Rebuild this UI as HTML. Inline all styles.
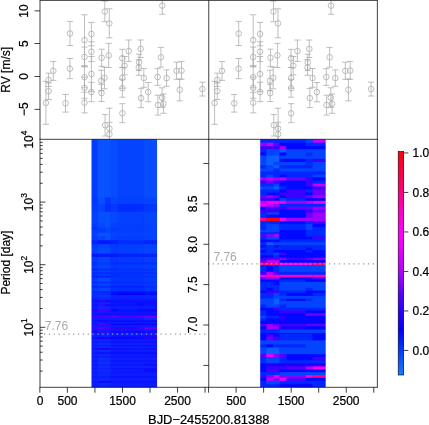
<!DOCTYPE html>
<html><head><meta charset="utf-8"><title>plot</title>
<style>html,body{margin:0;padding:0;background:#fff}body{width:429px;height:425px;overflow:hidden}</style></head>
<body>
<svg width="429" height="425" viewBox="0 0 429 425" style="display:block;font-family:'Liberation Sans',Arial,Helvetica,sans-serif;font-size:12px">
<rect width="429" height="425" fill="#fff"/>
<defs><clipPath id="c1"><rect x="40.00" y="0" width="168.75" height="139.30"/></clipPath><clipPath id="c2"><rect x="208.75" y="0" width="168.60" height="139.30"/></clipPath>
<mask id="m1" maskUnits="userSpaceOnUse" x="80" y="130" width="90" height="270"><rect x="91.50" y="139.30" width="65.55" height="248.00" fill="#fff"/></mask>
<mask id="m2" maskUnits="userSpaceOnUse" x="250" y="130" width="90" height="270"><rect x="260.20" y="139.30" width="65.50" height="248.00" fill="#fff"/></mask>
<linearGradient id="cb" x1="0" y1="151.50" x2="0" y2="375.00" gradientUnits="userSpaceOnUse">
<stop offset="0.0000" stop-color="#ff000f"/>
<stop offset="0.0250" stop-color="#ff001b"/>
<stop offset="0.0500" stop-color="#ff002a"/>
<stop offset="0.0750" stop-color="#ff003a"/>
<stop offset="0.1000" stop-color="#ff0049"/>
<stop offset="0.1250" stop-color="#ff005a"/>
<stop offset="0.1500" stop-color="#ff006b"/>
<stop offset="0.1750" stop-color="#ff007c"/>
<stop offset="0.2000" stop-color="#ff0090"/>
<stop offset="0.2250" stop-color="#ff00a4"/>
<stop offset="0.2500" stop-color="#ff00b9"/>
<stop offset="0.2750" stop-color="#ff00ce"/>
<stop offset="0.3000" stop-color="#ff00dc"/>
<stop offset="0.3250" stop-color="#ff00e8"/>
<stop offset="0.3500" stop-color="#ff00f5"/>
<stop offset="0.3750" stop-color="#fb00fb"/>
<stop offset="0.4000" stop-color="#f400fd"/>
<stop offset="0.4250" stop-color="#ed00ff"/>
<stop offset="0.4500" stop-color="#e100ff"/>
<stop offset="0.4750" stop-color="#d500ff"/>
<stop offset="0.5000" stop-color="#c900ff"/>
<stop offset="0.5250" stop-color="#bb00ff"/>
<stop offset="0.5500" stop-color="#a700ff"/>
<stop offset="0.5750" stop-color="#9000ff"/>
<stop offset="0.6000" stop-color="#7900ff"/>
<stop offset="0.6250" stop-color="#6400ff"/>
<stop offset="0.6500" stop-color="#4f00ff"/>
<stop offset="0.6750" stop-color="#3e00ff"/>
<stop offset="0.7000" stop-color="#3000ff"/>
<stop offset="0.7250" stop-color="#2300ff"/>
<stop offset="0.7500" stop-color="#1700ff"/>
<stop offset="0.7750" stop-color="#0c00ff"/>
<stop offset="0.8000" stop-color="#0100ff"/>
<stop offset="0.8250" stop-color="#0110ff"/>
<stop offset="0.8500" stop-color="#0121ff"/>
<stop offset="0.8750" stop-color="#0232ff"/>
<stop offset="0.9000" stop-color="#0442ff"/>
<stop offset="0.9250" stop-color="#0851ff"/>
<stop offset="0.9500" stop-color="#0d60ff"/>
<stop offset="0.9750" stop-color="#116fff"/>
<stop offset="1.0000" stop-color="#167fff"/>
</linearGradient></defs>
<g mask="url(#m1)"><rect x="88.50" y="136.40" width="71.40" height="253.90" fill="#0649ff"/>
<rect x="88.50" y="136.40" width="9.20" height="253.90" fill="#023aff"/>
<rect x="97.70" y="136.40" width="7.20" height="253.90" fill="#0953ff"/>
<rect x="104.90" y="136.40" width="5.90" height="253.90" fill="#0852ff"/>
<rect x="110.80" y="136.40" width="7.00" height="253.90" fill="#074cff"/>
<rect x="117.80" y="136.40" width="26.10" height="253.90" fill="#0444ff"/>
<rect x="143.90" y="136.40" width="16.00" height="253.90" fill="#074cff"/>
<rect x="88.50" y="197.40" width="9.20" height="192.90" fill="#0236ff"/>
<rect x="97.70" y="197.40" width="7.20" height="192.90" fill="#074eff"/>
<rect x="104.90" y="197.40" width="5.90" height="192.90" fill="#0236ff"/>
<rect x="110.80" y="197.40" width="7.00" height="192.90" fill="#0444ff"/>
<rect x="117.80" y="197.40" width="26.10" height="192.90" fill="#0340ff"/>
<rect x="143.90" y="197.40" width="16.00" height="192.90" fill="#0444ff"/>
<rect x="88.50" y="204.00" width="9.20" height="186.30" fill="#023aff"/>
<rect x="97.70" y="204.00" width="7.20" height="186.30" fill="#0444ff"/>
<rect x="104.90" y="204.00" width="5.90" height="186.30" fill="#022fff"/>
<rect x="110.80" y="204.00" width="7.00" height="186.30" fill="#023aff"/>
<rect x="117.80" y="204.00" width="26.10" height="186.30" fill="#012cff"/>
<rect x="143.90" y="204.00" width="16.00" height="186.30" fill="#0236ff"/>
<rect x="88.50" y="211.70" width="9.20" height="178.60" fill="#0340ff"/>
<rect x="97.70" y="211.70" width="13.10" height="178.60" fill="#074eff"/>
<rect x="110.80" y="211.70" width="7.00" height="178.60" fill="#0548ff"/>
<rect x="117.80" y="211.70" width="26.10" height="178.60" fill="#0340ff"/>
<rect x="143.90" y="211.70" width="16.00" height="178.60" fill="#0444ff"/>
<rect x="88.50" y="223.40" width="9.20" height="166.90" fill="#023aff"/>
<rect x="97.70" y="223.40" width="7.20" height="166.90" fill="#0548ff"/>
<rect x="104.90" y="223.40" width="5.90" height="166.90" fill="#074eff"/>
<rect x="110.80" y="223.40" width="7.00" height="166.90" fill="#0340ff"/>
<rect x="117.80" y="223.40" width="26.10" height="166.90" fill="#033eff"/>
<rect x="143.90" y="223.40" width="16.00" height="166.90" fill="#0340ff"/>
<rect x="88.50" y="227.60" width="9.20" height="162.70" fill="#012cff"/>
<rect x="97.70" y="227.60" width="7.20" height="162.70" fill="#033eff"/>
<rect x="104.90" y="227.60" width="5.90" height="162.70" fill="#0444ff"/>
<rect x="110.80" y="227.60" width="7.00" height="162.70" fill="#0238ff"/>
<rect x="117.80" y="227.60" width="26.10" height="162.70" fill="#023cff"/>
<rect x="143.90" y="227.60" width="16.00" height="162.70" fill="#0340ff"/>
<rect x="88.50" y="229.40" width="16.40" height="160.90" fill="#023aff"/>
<rect x="104.90" y="229.40" width="5.90" height="160.90" fill="#0444ff"/>
<rect x="110.80" y="229.40" width="33.10" height="160.90" fill="#033eff"/>
<rect x="143.90" y="229.40" width="16.00" height="160.90" fill="#0340ff"/>
<rect x="88.50" y="232.70" width="9.20" height="157.60" fill="#0340ff"/>
<rect x="97.70" y="232.70" width="13.10" height="157.60" fill="#0852ff"/>
<rect x="110.80" y="232.70" width="7.00" height="157.60" fill="#0444ff"/>
<rect x="117.80" y="232.70" width="26.10" height="157.60" fill="#0340ff"/>
<rect x="143.90" y="232.70" width="16.00" height="157.60" fill="#0444ff"/>
<rect x="88.50" y="236.00" width="9.20" height="154.30" fill="#023aff"/>
<rect x="97.70" y="236.00" width="7.20" height="154.30" fill="#0444ff"/>
<rect x="104.90" y="236.00" width="5.90" height="154.30" fill="#074eff"/>
<rect x="110.80" y="236.00" width="7.00" height="154.30" fill="#0340ff"/>
<rect x="117.80" y="236.00" width="26.10" height="154.30" fill="#033eff"/>
<rect x="143.90" y="236.00" width="16.00" height="154.30" fill="#0340ff"/>
<rect x="88.50" y="240.30" width="9.20" height="150.00" fill="#0122ff"/>
<rect x="97.70" y="240.30" width="13.10" height="150.00" fill="#0114ff"/>
<rect x="110.80" y="240.30" width="7.00" height="150.00" fill="#011cff"/>
<rect x="117.80" y="240.30" width="26.10" height="150.00" fill="#012cff"/>
<rect x="143.90" y="240.30" width="16.00" height="150.00" fill="#0122ff"/>
<rect x="88.50" y="244.10" width="9.20" height="146.20" fill="#023aff"/>
<rect x="97.70" y="244.10" width="13.10" height="146.20" fill="#0444ff"/>
<rect x="110.80" y="244.10" width="7.00" height="146.20" fill="#023aff"/>
<rect x="117.80" y="244.10" width="26.10" height="146.20" fill="#033eff"/>
<rect x="143.90" y="244.10" width="16.00" height="146.20" fill="#0340ff"/>
<rect x="88.50" y="247.80" width="9.20" height="142.50" fill="#033eff"/>
<rect x="97.70" y="247.80" width="13.10" height="142.50" fill="#064aff"/>
<rect x="110.80" y="247.80" width="7.00" height="142.50" fill="#023aff"/>
<rect x="117.80" y="247.80" width="19.30" height="142.50" fill="#033eff"/>
<rect x="137.10" y="247.80" width="6.80" height="142.50" fill="#0340ff"/>
<rect x="143.90" y="247.80" width="16.00" height="142.50" fill="#0444ff"/>
<rect x="88.50" y="253.70" width="9.20" height="136.60" fill="#0114ff"/>
<rect x="97.70" y="253.70" width="20.10" height="136.60" fill="#011aff"/>
<rect x="117.80" y="253.70" width="42.10" height="136.60" fill="#0122ff"/>
<rect x="88.50" y="257.00" width="9.20" height="133.30" fill="#023aff"/>
<rect x="97.70" y="257.00" width="13.10" height="133.30" fill="#0444ff"/>
<rect x="110.80" y="257.00" width="7.00" height="133.30" fill="#0236ff"/>
<rect x="117.80" y="257.00" width="26.10" height="133.30" fill="#023aff"/>
<rect x="143.90" y="257.00" width="16.00" height="133.30" fill="#033eff"/>
<rect x="88.50" y="262.00" width="9.20" height="128.30" fill="#022fff"/>
<rect x="97.70" y="262.00" width="13.10" height="128.30" fill="#023aff"/>
<rect x="110.80" y="262.00" width="33.10" height="128.30" fill="#012cff"/>
<rect x="143.90" y="262.00" width="16.00" height="128.30" fill="#022fff"/>
<rect x="88.50" y="264.60" width="9.20" height="125.70" fill="#023aff"/>
<rect x="97.70" y="264.60" width="13.10" height="125.70" fill="#0444ff"/>
<rect x="110.80" y="264.60" width="7.00" height="125.70" fill="#0236ff"/>
<rect x="117.80" y="264.60" width="26.10" height="125.70" fill="#023aff"/>
<rect x="143.90" y="264.60" width="16.00" height="125.70" fill="#033eff"/>
<rect x="88.50" y="268.80" width="9.20" height="121.50" fill="#0122ff"/>
<rect x="97.70" y="268.80" width="20.10" height="121.50" fill="#012cff"/>
<rect x="117.80" y="268.80" width="42.10" height="121.50" fill="#022fff"/>
<rect x="88.50" y="270.50" width="9.20" height="119.80" fill="#023aff"/>
<rect x="97.70" y="270.50" width="13.10" height="119.80" fill="#0340ff"/>
<rect x="110.80" y="270.50" width="33.10" height="119.80" fill="#0236ff"/>
<rect x="143.90" y="270.50" width="16.00" height="119.80" fill="#023aff"/>
<rect x="88.50" y="272.00" width="9.20" height="118.30" fill="#012cff"/>
<rect x="97.70" y="272.00" width="62.20" height="118.30" fill="#022fff"/>
<rect x="88.50" y="273.70" width="9.20" height="116.60" fill="#022fff"/>
<rect x="97.70" y="273.70" width="13.10" height="116.60" fill="#023aff"/>
<rect x="110.80" y="273.70" width="7.00" height="116.60" fill="#022fff"/>
<rect x="117.80" y="273.70" width="26.10" height="116.60" fill="#0234ff"/>
<rect x="143.90" y="273.70" width="16.00" height="116.60" fill="#023aff"/>
<rect x="88.50" y="275.90" width="22.30" height="114.40" fill="#0122ff"/>
<rect x="110.80" y="275.90" width="49.10" height="114.40" fill="#022fff"/>
<rect x="88.50" y="277.50" width="9.20" height="112.80" fill="#023aff"/>
<rect x="97.70" y="277.50" width="13.10" height="112.80" fill="#0548ff"/>
<rect x="110.80" y="277.50" width="33.10" height="112.80" fill="#0234ff"/>
<rect x="143.90" y="277.50" width="16.00" height="112.80" fill="#023aff"/>
<rect x="88.50" y="281.70" width="9.20" height="108.60" fill="#012cff"/>
<rect x="97.70" y="281.70" width="13.10" height="108.60" fill="#022fff"/>
<rect x="110.80" y="281.70" width="33.10" height="108.60" fill="#012cff"/>
<rect x="143.90" y="281.70" width="16.00" height="108.60" fill="#022fff"/>
<rect x="88.50" y="283.40" width="9.20" height="106.90" fill="#023aff"/>
<rect x="97.70" y="283.40" width="13.10" height="106.90" fill="#0444ff"/>
<rect x="110.80" y="283.40" width="33.10" height="106.90" fill="#0234ff"/>
<rect x="143.90" y="283.40" width="16.00" height="106.90" fill="#023aff"/>
<rect x="88.50" y="285.90" width="9.20" height="104.40" fill="#0122ff"/>
<rect x="97.70" y="285.90" width="13.10" height="104.40" fill="#012cff"/>
<rect x="110.80" y="285.90" width="33.10" height="104.40" fill="#0122ff"/>
<rect x="143.90" y="285.90" width="16.00" height="104.40" fill="#012cff"/>
<rect x="88.50" y="287.60" width="9.20" height="102.70" fill="#023aff"/>
<rect x="97.70" y="287.60" width="13.10" height="102.70" fill="#0444ff"/>
<rect x="110.80" y="287.60" width="33.10" height="102.70" fill="#022fff"/>
<rect x="143.90" y="287.60" width="16.00" height="102.70" fill="#0236ff"/>
<rect x="88.50" y="291.00" width="22.30" height="99.30" fill="#0122ff"/>
<rect x="110.80" y="291.00" width="7.00" height="99.30" fill="#011aff"/>
<rect x="117.80" y="291.00" width="26.10" height="99.30" fill="#0114ff"/>
<rect x="143.90" y="291.00" width="16.00" height="99.30" fill="#011aff"/>
<rect x="88.50" y="292.70" width="22.30" height="97.60" fill="#022fff"/>
<rect x="110.80" y="292.70" width="7.00" height="97.60" fill="#000bff"/>
<rect x="117.80" y="292.70" width="26.10" height="97.60" fill="#0800ff"/>
<rect x="143.90" y="292.70" width="16.00" height="97.60" fill="#000bff"/>
<rect x="88.50" y="295.20" width="9.20" height="95.10" fill="#022fff"/>
<rect x="97.70" y="295.20" width="13.10" height="95.10" fill="#023aff"/>
<rect x="110.80" y="295.20" width="33.10" height="95.10" fill="#012cff"/>
<rect x="143.90" y="295.20" width="16.00" height="95.10" fill="#022fff"/>
<rect x="88.50" y="297.70" width="9.20" height="92.60" fill="#0122ff"/>
<rect x="97.70" y="297.70" width="13.10" height="92.60" fill="#012cff"/>
<rect x="110.80" y="297.70" width="49.10" height="92.60" fill="#0122ff"/>
<rect x="88.50" y="300.20" width="9.20" height="90.10" fill="#0114ff"/>
<rect x="97.70" y="300.20" width="7.20" height="90.10" fill="#2700ff"/>
<rect x="104.90" y="300.20" width="5.90" height="90.10" fill="#1100ff"/>
<rect x="110.80" y="300.20" width="49.10" height="90.10" fill="#0114ff"/>
<rect x="88.50" y="302.20" width="9.20" height="88.10" fill="#0122ff"/>
<rect x="97.70" y="302.20" width="13.10" height="88.10" fill="#012cff"/>
<rect x="110.80" y="302.20" width="26.30" height="88.10" fill="#011aff"/>
<rect x="137.10" y="302.20" width="6.80" height="88.10" fill="#000dff"/>
<rect x="143.90" y="302.20" width="16.00" height="88.10" fill="#0114ff"/>
<rect x="88.50" y="304.40" width="9.20" height="85.90" fill="#0114ff"/>
<rect x="97.70" y="304.40" width="7.20" height="85.90" fill="#3f00ff"/>
<rect x="104.90" y="304.40" width="5.90" height="85.90" fill="#1100ff"/>
<rect x="110.80" y="304.40" width="26.30" height="85.90" fill="#0114ff"/>
<rect x="137.10" y="304.40" width="6.80" height="85.90" fill="#000bff"/>
<rect x="143.90" y="304.40" width="16.00" height="85.90" fill="#0114ff"/>
<rect x="88.50" y="306.10" width="9.20" height="84.20" fill="#0122ff"/>
<rect x="97.70" y="306.10" width="13.10" height="84.20" fill="#022fff"/>
<rect x="110.80" y="306.10" width="49.10" height="84.20" fill="#0122ff"/>
<rect x="88.50" y="308.90" width="9.20" height="81.40" fill="#2700ff"/>
<rect x="97.70" y="308.90" width="7.20" height="81.40" fill="#4f00ff"/>
<rect x="104.90" y="308.90" width="5.90" height="81.40" fill="#3f00ff"/>
<rect x="110.80" y="308.90" width="7.00" height="81.40" fill="#0008ff"/>
<rect x="117.80" y="308.90" width="19.30" height="81.40" fill="#0114ff"/>
<rect x="137.10" y="308.90" width="22.80" height="81.40" fill="#000bff"/>
<rect x="88.50" y="311.60" width="22.30" height="78.70" fill="#0122ff"/>
<rect x="110.80" y="311.60" width="49.10" height="78.70" fill="#011aff"/>
<rect x="88.50" y="313.30" width="9.20" height="77.00" fill="#0114ff"/>
<rect x="97.70" y="313.30" width="7.20" height="77.00" fill="#2700ff"/>
<rect x="104.90" y="313.30" width="5.90" height="77.00" fill="#1100ff"/>
<rect x="110.80" y="313.30" width="49.10" height="77.00" fill="#0114ff"/>
<rect x="88.50" y="314.30" width="22.30" height="76.00" fill="#011cff"/>
<rect x="110.80" y="314.30" width="26.30" height="76.00" fill="#011aff"/>
<rect x="137.10" y="314.30" width="22.80" height="76.00" fill="#0114ff"/>
<rect x="88.50" y="315.70" width="9.20" height="74.60" fill="#3f00ff"/>
<rect x="97.70" y="315.70" width="13.10" height="74.60" fill="#4f00ff"/>
<rect x="110.80" y="315.70" width="7.00" height="74.60" fill="#6200ff"/>
<rect x="117.80" y="315.70" width="19.30" height="74.60" fill="#4f00ff"/>
<rect x="137.10" y="315.70" width="6.80" height="74.60" fill="#6200ff"/>
<rect x="143.90" y="315.70" width="16.00" height="74.60" fill="#7400ff"/>
<rect x="88.50" y="318.00" width="55.40" height="72.30" fill="#0122ff"/>
<rect x="143.90" y="318.00" width="16.00" height="72.30" fill="#022fff"/>
<rect x="88.50" y="320.40" width="9.20" height="69.90" fill="#0114ff"/>
<rect x="97.70" y="320.40" width="13.10" height="69.90" fill="#1100ff"/>
<rect x="110.80" y="320.40" width="49.10" height="69.90" fill="#0008ff"/>
<rect x="88.50" y="321.70" width="71.40" height="68.60" fill="#0122ff"/>
<rect x="88.50" y="323.40" width="9.20" height="66.90" fill="#0114ff"/>
<rect x="97.70" y="323.40" width="7.20" height="66.90" fill="#4f00ff"/>
<rect x="104.90" y="323.40" width="5.90" height="66.90" fill="#3f00ff"/>
<rect x="110.80" y="323.40" width="49.10" height="66.90" fill="#0008ff"/>
<rect x="88.50" y="325.10" width="71.40" height="65.20" fill="#0122ff"/>
<rect x="88.50" y="327.40" width="9.20" height="62.90" fill="#3f00ff"/>
<rect x="97.70" y="327.40" width="7.20" height="62.90" fill="#6200ff"/>
<rect x="104.90" y="327.40" width="5.90" height="62.90" fill="#4f00ff"/>
<rect x="110.80" y="327.40" width="26.30" height="62.90" fill="#2700ff"/>
<rect x="137.10" y="327.40" width="6.80" height="62.90" fill="#3f00ff"/>
<rect x="143.90" y="327.40" width="16.00" height="62.90" fill="#6200ff"/>
<rect x="88.50" y="329.40" width="71.40" height="60.90" fill="#0122ff"/>
<rect x="88.50" y="330.80" width="9.20" height="59.50" fill="#1100ff"/>
<rect x="97.70" y="330.80" width="13.10" height="59.50" fill="#3f00ff"/>
<rect x="110.80" y="330.80" width="33.10" height="59.50" fill="#1100ff"/>
<rect x="143.90" y="330.80" width="16.00" height="59.50" fill="#2700ff"/>
<rect x="88.50" y="332.50" width="9.20" height="57.80" fill="#0122ff"/>
<rect x="97.70" y="332.50" width="13.10" height="57.80" fill="#0129ff"/>
<rect x="110.80" y="332.50" width="49.10" height="57.80" fill="#0122ff"/>
<rect x="88.50" y="335.50" width="22.30" height="54.80" fill="#0122ff"/>
<rect x="110.80" y="335.50" width="49.10" height="54.80" fill="#0114ff"/>
<rect x="88.50" y="337.20" width="9.20" height="53.10" fill="#0114ff"/>
<rect x="97.70" y="337.20" width="13.10" height="53.10" fill="#1100ff"/>
<rect x="110.80" y="337.20" width="26.30" height="53.10" fill="#0008ff"/>
<rect x="137.10" y="337.20" width="6.80" height="53.10" fill="#1100ff"/>
<rect x="143.90" y="337.20" width="16.00" height="53.10" fill="#2700ff"/>
<rect x="88.50" y="339.20" width="9.20" height="51.10" fill="#0122ff"/>
<rect x="97.70" y="339.20" width="13.10" height="51.10" fill="#022fff"/>
<rect x="110.80" y="339.20" width="49.10" height="51.10" fill="#0122ff"/>
<rect x="88.50" y="341.50" width="9.20" height="48.80" fill="#011aff"/>
<rect x="97.70" y="341.50" width="13.10" height="48.80" fill="#0120ff"/>
<rect x="110.80" y="341.50" width="49.10" height="48.80" fill="#0114ff"/>
<rect x="88.50" y="343.00" width="9.20" height="47.30" fill="#0126ff"/>
<rect x="97.70" y="343.00" width="13.10" height="47.30" fill="#022fff"/>
<rect x="110.80" y="343.00" width="49.10" height="47.30" fill="#0126ff"/>
<rect x="88.50" y="345.00" width="9.20" height="45.30" fill="#011aff"/>
<rect x="97.70" y="345.00" width="13.10" height="45.30" fill="#0122ff"/>
<rect x="110.80" y="345.00" width="49.10" height="45.30" fill="#0114ff"/>
<rect x="88.50" y="346.50" width="9.20" height="43.80" fill="#0126ff"/>
<rect x="97.70" y="346.50" width="13.10" height="43.80" fill="#0234ff"/>
<rect x="110.80" y="346.50" width="49.10" height="43.80" fill="#0126ff"/>
<rect x="88.50" y="348.00" width="9.20" height="42.30" fill="#0114ff"/>
<rect x="97.70" y="348.00" width="13.10" height="42.30" fill="#1100ff"/>
<rect x="110.80" y="348.00" width="49.10" height="42.30" fill="#0114ff"/>
<rect x="88.50" y="349.80" width="9.20" height="40.50" fill="#0126ff"/>
<rect x="97.70" y="349.80" width="13.10" height="40.50" fill="#022fff"/>
<rect x="110.80" y="349.80" width="49.10" height="40.50" fill="#0122ff"/>
<rect x="88.50" y="352.30" width="22.30" height="38.00" fill="#0114ff"/>
<rect x="110.80" y="352.30" width="49.10" height="38.00" fill="#000bff"/>
<rect x="88.50" y="354.00" width="9.20" height="36.30" fill="#0126ff"/>
<rect x="97.70" y="354.00" width="13.10" height="36.30" fill="#022fff"/>
<rect x="110.80" y="354.00" width="49.10" height="36.30" fill="#0122ff"/>
<rect x="88.50" y="356.00" width="9.20" height="34.30" fill="#011aff"/>
<rect x="97.70" y="356.00" width="13.10" height="34.30" fill="#0122ff"/>
<rect x="110.80" y="356.00" width="49.10" height="34.30" fill="#0116ff"/>
<rect x="88.50" y="357.50" width="9.20" height="32.80" fill="#0126ff"/>
<rect x="97.70" y="357.50" width="13.10" height="32.80" fill="#0234ff"/>
<rect x="110.80" y="357.50" width="49.10" height="32.80" fill="#0126ff"/>
<rect x="88.50" y="360.00" width="9.20" height="30.30" fill="#011cff"/>
<rect x="97.70" y="360.00" width="13.10" height="30.30" fill="#022fff"/>
<rect x="110.80" y="360.00" width="49.10" height="30.30" fill="#011aff"/>
<rect x="88.50" y="362.00" width="9.20" height="28.30" fill="#0126ff"/>
<rect x="97.70" y="362.00" width="13.10" height="28.30" fill="#0236ff"/>
<rect x="110.80" y="362.00" width="33.10" height="28.30" fill="#0126ff"/>
<rect x="143.90" y="362.00" width="16.00" height="28.30" fill="#0122ff"/>
<rect x="88.50" y="364.00" width="9.20" height="26.30" fill="#011aff"/>
<rect x="97.70" y="364.00" width="13.10" height="26.30" fill="#0129ff"/>
<rect x="110.80" y="364.00" width="33.10" height="26.30" fill="#0116ff"/>
<rect x="143.90" y="364.00" width="16.00" height="26.30" fill="#000dff"/>
<rect x="88.50" y="365.50" width="9.20" height="24.80" fill="#0126ff"/>
<rect x="97.70" y="365.50" width="13.10" height="24.80" fill="#0234ff"/>
<rect x="110.80" y="365.50" width="49.10" height="24.80" fill="#0126ff"/>
<rect x="88.50" y="368.00" width="9.20" height="22.30" fill="#011aff"/>
<rect x="97.70" y="368.00" width="13.10" height="22.30" fill="#0126ff"/>
<rect x="110.80" y="368.00" width="33.10" height="22.30" fill="#0116ff"/>
<rect x="143.90" y="368.00" width="16.00" height="22.30" fill="#0114ff"/>
<rect x="88.50" y="369.50" width="9.20" height="20.80" fill="#0126ff"/>
<rect x="97.70" y="369.50" width="13.10" height="20.80" fill="#0234ff"/>
<rect x="110.80" y="369.50" width="33.10" height="20.80" fill="#0122ff"/>
<rect x="143.90" y="369.50" width="16.00" height="20.80" fill="#000bff"/>
<rect x="88.50" y="371.50" width="9.20" height="18.80" fill="#011cff"/>
<rect x="97.70" y="371.50" width="13.10" height="18.80" fill="#0129ff"/>
<rect x="110.80" y="371.50" width="49.10" height="18.80" fill="#011aff"/>
<rect x="88.50" y="373.50" width="9.20" height="16.80" fill="#0126ff"/>
<rect x="97.70" y="373.50" width="13.10" height="16.80" fill="#012cff"/>
<rect x="110.80" y="373.50" width="49.10" height="16.80" fill="#0122ff"/>
<rect x="88.50" y="376.00" width="9.20" height="14.30" fill="#011aff"/>
<rect x="97.70" y="376.00" width="13.10" height="14.30" fill="#0122ff"/>
<rect x="110.80" y="376.00" width="49.10" height="14.30" fill="#0116ff"/>
<rect x="88.50" y="378.00" width="9.20" height="12.30" fill="#0126ff"/>
<rect x="97.70" y="378.00" width="13.10" height="12.30" fill="#012cff"/>
<rect x="110.80" y="378.00" width="49.10" height="12.30" fill="#0122ff"/>
<rect x="88.50" y="381.00" width="9.20" height="9.30" fill="#011aff"/>
<rect x="97.70" y="381.00" width="13.10" height="9.30" fill="#010fff"/>
<rect x="110.80" y="381.00" width="49.10" height="9.30" fill="#0116ff"/>
<rect x="88.50" y="383.00" width="9.20" height="7.30" fill="#0122ff"/>
<rect x="97.70" y="383.00" width="13.10" height="7.30" fill="#0129ff"/>
<rect x="110.80" y="383.00" width="49.10" height="7.30" fill="#0122ff"/>
<rect x="85" y="296" width="80" height="100" fill="#5000ff" fill-opacity="0.14"/></g>
<g mask="url(#m2)"><rect x="257.20" y="136.51" width="71.40" height="253.79" fill="#0116ff"/>
<rect x="257.20" y="136.51" width="48.60" height="253.79" fill="#0127ff"/>
<rect x="305.80" y="136.51" width="6.80" height="253.79" fill="#0444ff"/>
<rect x="312.60" y="136.51" width="16.00" height="253.79" fill="#c800ff"/>
<rect x="257.20" y="142.70" width="9.20" height="247.60" fill="#9f00ff"/>
<rect x="266.40" y="142.70" width="7.20" height="247.60" fill="#c800ff"/>
<rect x="273.60" y="142.70" width="5.90" height="247.60" fill="#6b00ff"/>
<rect x="279.50" y="142.70" width="26.30" height="247.60" fill="#0009ff"/>
<rect x="305.80" y="142.70" width="22.80" height="247.60" fill="#0127ff"/>
<rect x="257.20" y="146.05" width="22.30" height="244.25" fill="#3c00ff"/>
<rect x="279.50" y="146.05" width="7.00" height="244.25" fill="#9f00ff"/>
<rect x="286.50" y="146.05" width="42.10" height="244.25" fill="#0009ff"/>
<rect x="257.20" y="149.24" width="9.20" height="241.06" fill="#0127ff"/>
<rect x="266.40" y="149.24" width="13.10" height="241.06" fill="#0444ff"/>
<rect x="279.50" y="149.24" width="7.00" height="241.06" fill="#0c5fff"/>
<rect x="286.50" y="149.24" width="42.10" height="241.06" fill="#0444ff"/>
<rect x="257.20" y="152.43" width="9.20" height="237.87" fill="#0009ff"/>
<rect x="266.40" y="152.43" width="13.10" height="237.87" fill="#0444ff"/>
<rect x="279.50" y="152.43" width="7.00" height="237.87" fill="#0009ff"/>
<rect x="286.50" y="152.43" width="19.30" height="237.87" fill="#0444ff"/>
<rect x="305.80" y="152.43" width="6.80" height="237.87" fill="#0127ff"/>
<rect x="312.60" y="152.43" width="16.00" height="237.87" fill="#0444ff"/>
<rect x="257.20" y="155.62" width="9.20" height="234.68" fill="#0444ff"/>
<rect x="266.40" y="155.62" width="13.10" height="234.68" fill="#0c5fff"/>
<rect x="279.50" y="155.62" width="49.10" height="234.68" fill="#0444ff"/>
<rect x="257.20" y="158.81" width="9.20" height="231.49" fill="#0444ff"/>
<rect x="266.40" y="158.81" width="13.10" height="231.49" fill="#0c5fff"/>
<rect x="279.50" y="158.81" width="26.30" height="231.49" fill="#0009ff"/>
<rect x="305.80" y="158.81" width="6.80" height="231.49" fill="#0127ff"/>
<rect x="312.60" y="158.81" width="16.00" height="231.49" fill="#3c00ff"/>
<rect x="257.20" y="161.99" width="9.20" height="228.31" fill="#0444ff"/>
<rect x="266.40" y="161.99" width="7.20" height="228.31" fill="#0c5fff"/>
<rect x="273.60" y="161.99" width="32.20" height="228.31" fill="#0444ff"/>
<rect x="305.80" y="161.99" width="6.80" height="228.31" fill="#0127ff"/>
<rect x="312.60" y="161.99" width="16.00" height="228.31" fill="#0444ff"/>
<rect x="257.20" y="165.18" width="9.20" height="225.12" fill="#0127ff"/>
<rect x="266.40" y="165.18" width="7.20" height="225.12" fill="#0444ff"/>
<rect x="273.60" y="165.18" width="5.90" height="225.12" fill="#0c5fff"/>
<rect x="279.50" y="165.18" width="33.10" height="225.12" fill="#0127ff"/>
<rect x="312.60" y="165.18" width="16.00" height="225.12" fill="#0444ff"/>
<rect x="257.20" y="168.37" width="16.40" height="221.93" fill="#0444ff"/>
<rect x="273.60" y="168.37" width="5.90" height="221.93" fill="#0127ff"/>
<rect x="279.50" y="168.37" width="49.10" height="221.93" fill="#0444ff"/>
<rect x="257.20" y="171.56" width="71.40" height="218.74" fill="#0127ff"/>
<rect x="257.20" y="174.74" width="9.20" height="215.56" fill="#0127ff"/>
<rect x="266.40" y="174.74" width="7.20" height="215.56" fill="#0444ff"/>
<rect x="273.60" y="174.74" width="5.90" height="215.56" fill="#0127ff"/>
<rect x="279.50" y="174.74" width="7.00" height="215.56" fill="#0009ff"/>
<rect x="286.50" y="174.74" width="26.10" height="215.56" fill="#0127ff"/>
<rect x="312.60" y="174.74" width="16.00" height="215.56" fill="#0444ff"/>
<rect x="257.20" y="177.34" width="9.20" height="212.96" fill="#9f00ff"/>
<rect x="266.40" y="177.34" width="7.20" height="212.96" fill="#c800ff"/>
<rect x="273.60" y="177.34" width="5.90" height="212.96" fill="#9f00ff"/>
<rect x="279.50" y="177.34" width="7.00" height="212.96" fill="#c800ff"/>
<rect x="286.50" y="177.34" width="19.30" height="212.96" fill="#6b00ff"/>
<rect x="305.80" y="177.34" width="6.80" height="212.96" fill="#3c00ff"/>
<rect x="312.60" y="177.34" width="16.00" height="212.96" fill="#0009ff"/>
<rect x="257.20" y="180.53" width="9.20" height="209.77" fill="#3c00ff"/>
<rect x="266.40" y="180.53" width="7.20" height="209.77" fill="#6b00ff"/>
<rect x="273.60" y="180.53" width="5.90" height="209.77" fill="#3c00ff"/>
<rect x="279.50" y="180.53" width="26.30" height="209.77" fill="#0009ff"/>
<rect x="305.80" y="180.53" width="6.80" height="209.77" fill="#3c00ff"/>
<rect x="312.60" y="180.53" width="16.00" height="209.77" fill="#0127ff"/>
<rect x="257.20" y="183.72" width="16.40" height="206.58" fill="#0127ff"/>
<rect x="273.60" y="183.72" width="5.90" height="206.58" fill="#0444ff"/>
<rect x="279.50" y="183.72" width="26.30" height="206.58" fill="#0009ff"/>
<rect x="305.80" y="183.72" width="6.80" height="206.58" fill="#3c00ff"/>
<rect x="312.60" y="183.72" width="16.00" height="206.58" fill="#c800ff"/>
<rect x="257.20" y="186.40" width="16.40" height="203.90" fill="#0444ff"/>
<rect x="273.60" y="186.40" width="5.90" height="203.90" fill="#0c5fff"/>
<rect x="279.50" y="186.40" width="7.00" height="203.90" fill="#0127ff"/>
<rect x="286.50" y="186.40" width="26.10" height="203.90" fill="#0009ff"/>
<rect x="312.60" y="186.40" width="16.00" height="203.90" fill="#3c00ff"/>
<rect x="257.20" y="189.42" width="22.30" height="200.88" fill="#0127ff"/>
<rect x="279.50" y="189.42" width="7.00" height="200.88" fill="#0009ff"/>
<rect x="286.50" y="189.42" width="19.30" height="200.88" fill="#3c00ff"/>
<rect x="305.80" y="189.42" width="6.80" height="200.88" fill="#0127ff"/>
<rect x="312.60" y="189.42" width="16.00" height="200.88" fill="#6b00ff"/>
<rect x="257.20" y="192.44" width="9.20" height="197.86" fill="#0127ff"/>
<rect x="266.40" y="192.44" width="13.10" height="197.86" fill="#0009ff"/>
<rect x="279.50" y="192.44" width="26.30" height="197.86" fill="#3c00ff"/>
<rect x="305.80" y="192.44" width="6.80" height="197.86" fill="#0009ff"/>
<rect x="312.60" y="192.44" width="16.00" height="197.86" fill="#6b00ff"/>
<rect x="257.20" y="195.30" width="9.20" height="195.00" fill="#6b00ff"/>
<rect x="266.40" y="195.30" width="7.20" height="195.00" fill="#9f00ff"/>
<rect x="273.60" y="195.30" width="5.90" height="195.00" fill="#6b00ff"/>
<rect x="279.50" y="195.30" width="7.00" height="195.00" fill="#0009ff"/>
<rect x="286.50" y="195.30" width="19.30" height="195.00" fill="#3c00ff"/>
<rect x="305.80" y="195.30" width="6.80" height="195.00" fill="#6b00ff"/>
<rect x="312.60" y="195.30" width="16.00" height="195.00" fill="#9f00ff"/>
<rect x="257.20" y="198.15" width="16.40" height="192.15" fill="#3c00ff"/>
<rect x="273.60" y="198.15" width="5.90" height="192.15" fill="#0009ff"/>
<rect x="279.50" y="198.15" width="7.00" height="192.15" fill="#0444ff"/>
<rect x="286.50" y="198.15" width="19.30" height="192.15" fill="#0127ff"/>
<rect x="305.80" y="198.15" width="22.80" height="192.15" fill="#0009ff"/>
<rect x="257.20" y="200.83" width="9.20" height="189.47" fill="#c800ff"/>
<rect x="266.40" y="200.83" width="13.10" height="189.47" fill="#ff00e4"/>
<rect x="279.50" y="200.83" width="7.00" height="189.47" fill="#f200fd"/>
<rect x="286.50" y="200.83" width="19.30" height="189.47" fill="#9f00ff"/>
<rect x="305.80" y="200.83" width="6.80" height="189.47" fill="#c800ff"/>
<rect x="312.60" y="200.83" width="16.00" height="189.47" fill="#f200fd"/>
<rect x="257.20" y="203.85" width="9.20" height="186.45" fill="#f200fd"/>
<rect x="266.40" y="203.85" width="7.20" height="186.45" fill="#c800ff"/>
<rect x="273.60" y="203.85" width="5.90" height="186.45" fill="#9f00ff"/>
<rect x="279.50" y="203.85" width="49.10" height="186.45" fill="#0127ff"/>
<rect x="257.20" y="206.70" width="9.20" height="183.60" fill="#0009ff"/>
<rect x="266.40" y="206.70" width="20.10" height="183.60" fill="#3c00ff"/>
<rect x="286.50" y="206.70" width="26.10" height="183.60" fill="#6b00ff"/>
<rect x="312.60" y="206.70" width="16.00" height="183.60" fill="#9f00ff"/>
<rect x="257.20" y="209.56" width="22.30" height="180.74" fill="#3c00ff"/>
<rect x="279.50" y="209.56" width="26.30" height="180.74" fill="#0009ff"/>
<rect x="305.80" y="209.56" width="6.80" height="180.74" fill="#3c00ff"/>
<rect x="312.60" y="209.56" width="16.00" height="180.74" fill="#6b00ff"/>
<rect x="257.20" y="212.41" width="9.20" height="177.89" fill="#0127ff"/>
<rect x="266.40" y="212.41" width="13.10" height="177.89" fill="#0444ff"/>
<rect x="279.50" y="212.41" width="26.30" height="177.89" fill="#0009ff"/>
<rect x="305.80" y="212.41" width="6.80" height="177.89" fill="#6b00ff"/>
<rect x="312.60" y="212.41" width="16.00" height="177.89" fill="#9f00ff"/>
<rect x="257.20" y="214.67" width="9.20" height="175.63" fill="#0127ff"/>
<rect x="266.40" y="214.67" width="39.40" height="175.63" fill="#0009ff"/>
<rect x="305.80" y="214.67" width="6.80" height="175.63" fill="#6b00ff"/>
<rect x="312.60" y="214.67" width="16.00" height="175.63" fill="#9f00ff"/>
<rect x="257.20" y="217.69" width="9.20" height="172.61" fill="#ff0082"/>
<rect x="266.40" y="217.69" width="13.10" height="172.61" fill="#ff000f"/>
<rect x="279.50" y="217.69" width="7.00" height="172.61" fill="#f200fd"/>
<rect x="286.50" y="217.69" width="42.10" height="172.61" fill="#9f00ff"/>
<rect x="257.20" y="221.05" width="22.30" height="169.25" fill="#0127ff"/>
<rect x="279.50" y="221.05" width="26.30" height="169.25" fill="#0009ff"/>
<rect x="305.80" y="221.05" width="6.80" height="169.25" fill="#0127ff"/>
<rect x="312.60" y="221.05" width="16.00" height="169.25" fill="#3c00ff"/>
<rect x="257.20" y="224.07" width="9.20" height="166.23" fill="#0127ff"/>
<rect x="266.40" y="224.07" width="13.10" height="166.23" fill="#0444ff"/>
<rect x="279.50" y="224.07" width="26.30" height="166.23" fill="#0127ff"/>
<rect x="305.80" y="224.07" width="6.80" height="166.23" fill="#0444ff"/>
<rect x="312.60" y="224.07" width="16.00" height="166.23" fill="#0009ff"/>
<rect x="257.20" y="227.09" width="9.20" height="163.21" fill="#0127ff"/>
<rect x="266.40" y="227.09" width="13.10" height="163.21" fill="#0444ff"/>
<rect x="279.50" y="227.09" width="26.30" height="163.21" fill="#0127ff"/>
<rect x="305.80" y="227.09" width="6.80" height="163.21" fill="#0444ff"/>
<rect x="312.60" y="227.09" width="16.00" height="163.21" fill="#0127ff"/>
<rect x="257.20" y="230.11" width="22.30" height="160.19" fill="#0444ff"/>
<rect x="279.50" y="230.11" width="26.30" height="160.19" fill="#0009ff"/>
<rect x="305.80" y="230.11" width="22.80" height="160.19" fill="#0127ff"/>
<rect x="257.20" y="232.12" width="22.30" height="158.18" fill="#0127ff"/>
<rect x="279.50" y="232.12" width="26.30" height="158.18" fill="#0009ff"/>
<rect x="305.80" y="232.12" width="22.80" height="158.18" fill="#0127ff"/>
<rect x="257.20" y="234.13" width="9.20" height="156.17" fill="#5600ff"/>
<rect x="266.40" y="234.13" width="7.20" height="156.17" fill="#8900ff"/>
<rect x="273.60" y="234.13" width="5.90" height="156.17" fill="#bb00ff"/>
<rect x="279.50" y="234.13" width="26.30" height="156.17" fill="#0009ff"/>
<rect x="305.80" y="234.13" width="22.80" height="156.17" fill="#0127ff"/>
<rect x="257.20" y="236.65" width="9.20" height="153.65" fill="#0127ff"/>
<rect x="266.40" y="236.65" width="13.10" height="153.65" fill="#0444ff"/>
<rect x="279.50" y="236.65" width="33.10" height="153.65" fill="#0009ff"/>
<rect x="312.60" y="236.65" width="16.00" height="153.65" fill="#3c00ff"/>
<rect x="257.20" y="239.50" width="22.30" height="150.80" fill="#0009ff"/>
<rect x="279.50" y="239.50" width="49.10" height="150.80" fill="#0127ff"/>
<rect x="257.20" y="242.19" width="9.20" height="148.11" fill="#0127ff"/>
<rect x="266.40" y="242.19" width="7.20" height="148.11" fill="#0c5fff"/>
<rect x="273.60" y="242.19" width="55.00" height="148.11" fill="#0444ff"/>
<rect x="257.20" y="245.04" width="9.20" height="145.26" fill="#0009ff"/>
<rect x="266.40" y="245.04" width="7.20" height="145.26" fill="#0127ff"/>
<rect x="273.60" y="245.04" width="5.90" height="145.26" fill="#0009ff"/>
<rect x="279.50" y="245.04" width="49.10" height="145.26" fill="#0127ff"/>
<rect x="257.20" y="247.56" width="48.60" height="142.74" fill="#0127ff"/>
<rect x="305.80" y="247.56" width="6.80" height="142.74" fill="#0009ff"/>
<rect x="312.60" y="247.56" width="16.00" height="142.74" fill="#0127ff"/>
<rect x="257.20" y="250.07" width="9.20" height="140.23" fill="#0009ff"/>
<rect x="266.40" y="250.07" width="7.20" height="140.23" fill="#0127ff"/>
<rect x="273.60" y="250.07" width="32.20" height="140.23" fill="#0009ff"/>
<rect x="305.80" y="250.07" width="6.80" height="140.23" fill="#0127ff"/>
<rect x="312.60" y="250.07" width="16.00" height="140.23" fill="#0009ff"/>
<rect x="257.20" y="252.59" width="16.40" height="137.71" fill="#0127ff"/>
<rect x="273.60" y="252.59" width="5.90" height="137.71" fill="#0444ff"/>
<rect x="279.50" y="252.59" width="7.00" height="137.71" fill="#3c00ff"/>
<rect x="286.50" y="252.59" width="42.10" height="137.71" fill="#0009ff"/>
<rect x="257.20" y="255.11" width="16.40" height="135.19" fill="#0009ff"/>
<rect x="273.60" y="255.11" width="5.90" height="135.19" fill="#0127ff"/>
<rect x="279.50" y="255.11" width="49.10" height="135.19" fill="#0009ff"/>
<rect x="257.20" y="257.69" width="9.20" height="132.61" fill="#3c00ff"/>
<rect x="266.40" y="257.69" width="13.10" height="132.61" fill="#5600ff"/>
<rect x="279.50" y="257.69" width="7.00" height="132.61" fill="#8900ff"/>
<rect x="286.50" y="257.69" width="19.30" height="132.61" fill="#3c00ff"/>
<rect x="305.80" y="257.69" width="6.80" height="132.61" fill="#5600ff"/>
<rect x="312.60" y="257.69" width="16.00" height="132.61" fill="#8900ff"/>
<rect x="257.20" y="260.04" width="9.20" height="130.26" fill="#5600ff"/>
<rect x="266.40" y="260.04" width="13.10" height="130.26" fill="#bb00ff"/>
<rect x="279.50" y="260.04" width="49.10" height="130.26" fill="#0009ff"/>
<rect x="257.20" y="262.72" width="22.30" height="127.58" fill="#ff0082"/>
<rect x="279.50" y="262.72" width="33.10" height="127.58" fill="#ff00ef"/>
<rect x="312.60" y="262.72" width="16.00" height="127.58" fill="#ff0082"/>
<rect x="257.20" y="265.07" width="9.20" height="125.23" fill="#0127ff"/>
<rect x="266.40" y="265.07" width="7.20" height="125.23" fill="#0009ff"/>
<rect x="273.60" y="265.07" width="5.90" height="125.23" fill="#0127ff"/>
<rect x="279.50" y="265.07" width="49.10" height="125.23" fill="#0444ff"/>
<rect x="257.20" y="268.09" width="9.20" height="122.21" fill="#0127ff"/>
<rect x="266.40" y="268.09" width="7.20" height="122.21" fill="#0009ff"/>
<rect x="273.60" y="268.09" width="5.90" height="122.21" fill="#0127ff"/>
<rect x="279.50" y="268.09" width="49.10" height="122.21" fill="#0444ff"/>
<rect x="257.20" y="271.79" width="9.20" height="118.51" fill="#3c00ff"/>
<rect x="266.40" y="271.79" width="7.20" height="118.51" fill="#bb00ff"/>
<rect x="273.60" y="271.79" width="5.90" height="118.51" fill="#5600ff"/>
<rect x="279.50" y="271.79" width="49.10" height="118.51" fill="#0127ff"/>
<rect x="257.20" y="274.81" width="9.20" height="115.49" fill="#f200fd"/>
<rect x="266.40" y="274.81" width="13.10" height="115.49" fill="#ff00c2"/>
<rect x="279.50" y="274.81" width="33.10" height="115.49" fill="#ff00cb"/>
<rect x="312.60" y="274.81" width="16.00" height="115.49" fill="#ff00c2"/>
<rect x="257.20" y="277.15" width="9.20" height="113.15" fill="#5600ff"/>
<rect x="266.40" y="277.15" width="13.10" height="113.15" fill="#8900ff"/>
<rect x="279.50" y="277.15" width="33.10" height="113.15" fill="#0009ff"/>
<rect x="312.60" y="277.15" width="16.00" height="113.15" fill="#3c00ff"/>
<rect x="257.20" y="279.50" width="22.30" height="110.80" fill="#0009ff"/>
<rect x="279.50" y="279.50" width="26.30" height="110.80" fill="#0127ff"/>
<rect x="305.80" y="279.50" width="22.80" height="110.80" fill="#0009ff"/>
<rect x="257.20" y="281.85" width="16.40" height="108.45" fill="#0127ff"/>
<rect x="273.60" y="281.85" width="5.90" height="108.45" fill="#0009ff"/>
<rect x="279.50" y="281.85" width="49.10" height="108.45" fill="#0444ff"/>
<rect x="257.20" y="284.87" width="22.30" height="105.43" fill="#0127ff"/>
<rect x="279.50" y="284.87" width="49.10" height="105.43" fill="#0444ff"/>
<rect x="257.20" y="287.89" width="9.20" height="102.41" fill="#0127ff"/>
<rect x="266.40" y="287.89" width="7.20" height="102.41" fill="#0009ff"/>
<rect x="273.60" y="287.89" width="5.90" height="102.41" fill="#0127ff"/>
<rect x="279.50" y="287.89" width="26.30" height="102.41" fill="#0444ff"/>
<rect x="305.80" y="287.89" width="6.80" height="102.41" fill="#0127ff"/>
<rect x="312.60" y="287.89" width="16.00" height="102.41" fill="#0444ff"/>
<rect x="257.20" y="290.58" width="9.20" height="99.72" fill="#0009ff"/>
<rect x="266.40" y="290.58" width="13.10" height="99.72" fill="#3c00ff"/>
<rect x="279.50" y="290.58" width="26.30" height="99.72" fill="#0127ff"/>
<rect x="305.80" y="290.58" width="22.80" height="99.72" fill="#0009ff"/>
<rect x="257.20" y="292.93" width="16.40" height="97.37" fill="#0127ff"/>
<rect x="273.60" y="292.93" width="5.90" height="97.37" fill="#0444ff"/>
<rect x="279.50" y="292.93" width="7.00" height="97.37" fill="#0127ff"/>
<rect x="286.50" y="292.93" width="26.10" height="97.37" fill="#0009ff"/>
<rect x="312.60" y="292.93" width="16.00" height="97.37" fill="#0127ff"/>
<rect x="257.20" y="296.01" width="16.40" height="94.29" fill="#0127ff"/>
<rect x="273.60" y="296.01" width="55.00" height="94.29" fill="#0444ff"/>
<rect x="257.20" y="298.70" width="16.40" height="91.60" fill="#0444ff"/>
<rect x="273.60" y="298.70" width="5.90" height="91.60" fill="#0c5fff"/>
<rect x="279.50" y="298.70" width="7.00" height="91.60" fill="#0127ff"/>
<rect x="286.50" y="298.70" width="19.30" height="91.60" fill="#0009ff"/>
<rect x="305.80" y="298.70" width="6.80" height="91.60" fill="#0127ff"/>
<rect x="312.60" y="298.70" width="16.00" height="91.60" fill="#0444ff"/>
<rect x="257.20" y="301.05" width="16.40" height="89.25" fill="#0444ff"/>
<rect x="273.60" y="301.05" width="5.90" height="89.25" fill="#0c5fff"/>
<rect x="279.50" y="301.05" width="49.10" height="89.25" fill="#0444ff"/>
<rect x="257.20" y="304.40" width="9.20" height="85.90" fill="#0127ff"/>
<rect x="266.40" y="304.40" width="13.10" height="85.90" fill="#0444ff"/>
<rect x="279.50" y="304.40" width="7.00" height="85.90" fill="#0127ff"/>
<rect x="286.50" y="304.40" width="42.10" height="85.90" fill="#0444ff"/>
<rect x="257.20" y="307.76" width="16.40" height="82.54" fill="#0009ff"/>
<rect x="273.60" y="307.76" width="5.90" height="82.54" fill="#3c00ff"/>
<rect x="279.50" y="307.76" width="49.10" height="82.54" fill="#0127ff"/>
<rect x="257.20" y="310.44" width="9.20" height="79.86" fill="#0127ff"/>
<rect x="266.40" y="310.44" width="13.10" height="79.86" fill="#0009ff"/>
<rect x="279.50" y="310.44" width="26.30" height="79.86" fill="#3c00ff"/>
<rect x="305.80" y="310.44" width="22.80" height="79.86" fill="#0009ff"/>
<rect x="257.20" y="313.30" width="9.20" height="77.00" fill="#0127ff"/>
<rect x="266.40" y="313.30" width="39.40" height="77.00" fill="#0009ff"/>
<rect x="305.80" y="313.30" width="22.80" height="77.00" fill="#7500ff"/>
<rect x="257.20" y="315.81" width="9.20" height="74.49" fill="#0444ff"/>
<rect x="266.40" y="315.81" width="13.10" height="74.49" fill="#0127ff"/>
<rect x="279.50" y="315.81" width="7.00" height="74.49" fill="#2c00ff"/>
<rect x="286.50" y="315.81" width="42.10" height="74.49" fill="#0009ff"/>
<rect x="257.20" y="318.33" width="9.20" height="71.97" fill="#0127ff"/>
<rect x="266.40" y="318.33" width="13.10" height="71.97" fill="#0009ff"/>
<rect x="279.50" y="318.33" width="7.00" height="71.97" fill="#2500ff"/>
<rect x="286.50" y="318.33" width="42.10" height="71.97" fill="#0009ff"/>
<rect x="257.20" y="320.85" width="71.40" height="69.45" fill="#0009ff"/>
<rect x="257.20" y="323.87" width="9.20" height="66.43" fill="#5600ff"/>
<rect x="266.40" y="323.87" width="7.20" height="66.43" fill="#9a00ff"/>
<rect x="273.60" y="323.87" width="5.90" height="66.43" fill="#6600ff"/>
<rect x="279.50" y="323.87" width="26.30" height="66.43" fill="#4300ff"/>
<rect x="305.80" y="323.87" width="22.80" height="66.43" fill="#6100ff"/>
<rect x="257.20" y="326.21" width="9.20" height="64.09" fill="#0009ff"/>
<rect x="266.40" y="326.21" width="7.20" height="64.09" fill="#9f00ff"/>
<rect x="273.60" y="326.21" width="5.90" height="64.09" fill="#8900ff"/>
<rect x="279.50" y="326.21" width="26.30" height="64.09" fill="#1900ff"/>
<rect x="305.80" y="326.21" width="22.80" height="64.09" fill="#0009ff"/>
<rect x="257.20" y="329.57" width="22.30" height="60.73" fill="#0127ff"/>
<rect x="279.50" y="329.57" width="49.10" height="60.73" fill="#0444ff"/>
<rect x="257.20" y="332.93" width="71.40" height="57.37" fill="#0009ff"/>
<rect x="257.20" y="334.00" width="9.20" height="56.30" fill="#0009ff"/>
<rect x="266.40" y="334.00" width="7.20" height="56.30" fill="#3c00ff"/>
<rect x="273.60" y="334.00" width="5.90" height="56.30" fill="#0009ff"/>
<rect x="279.50" y="334.00" width="33.10" height="56.30" fill="#0127ff"/>
<rect x="312.60" y="334.00" width="16.00" height="56.30" fill="#0009ff"/>
<rect x="257.20" y="336.52" width="9.20" height="53.78" fill="#0009ff"/>
<rect x="266.40" y="336.52" width="7.20" height="53.78" fill="#6b00ff"/>
<rect x="273.60" y="336.52" width="5.90" height="53.78" fill="#3c00ff"/>
<rect x="279.50" y="336.52" width="33.10" height="53.78" fill="#0127ff"/>
<rect x="312.60" y="336.52" width="16.00" height="53.78" fill="#0009ff"/>
<rect x="257.20" y="340.38" width="71.40" height="49.92" fill="#0444ff"/>
<rect x="257.20" y="344.40" width="9.20" height="45.90" fill="#0127ff"/>
<rect x="266.40" y="344.40" width="7.20" height="45.90" fill="#0009ff"/>
<rect x="273.60" y="344.40" width="32.20" height="45.90" fill="#0127ff"/>
<rect x="305.80" y="344.40" width="22.80" height="45.90" fill="#0444ff"/>
<rect x="257.20" y="347.42" width="9.20" height="42.88" fill="#0444ff"/>
<rect x="266.40" y="347.42" width="13.10" height="42.88" fill="#0c5fff"/>
<rect x="279.50" y="347.42" width="49.10" height="42.88" fill="#0444ff"/>
<rect x="257.20" y="350.78" width="9.20" height="39.52" fill="#0444ff"/>
<rect x="266.40" y="350.78" width="13.10" height="39.52" fill="#0c5fff"/>
<rect x="279.50" y="350.78" width="49.10" height="39.52" fill="#0444ff"/>
<rect x="257.20" y="354.13" width="9.20" height="36.17" fill="#5600ff"/>
<rect x="266.40" y="354.13" width="7.20" height="36.17" fill="#f200fd"/>
<rect x="273.60" y="354.13" width="5.90" height="36.17" fill="#8900ff"/>
<rect x="279.50" y="354.13" width="7.00" height="36.17" fill="#5600ff"/>
<rect x="286.50" y="354.13" width="42.10" height="36.17" fill="#0009ff"/>
<rect x="257.20" y="356.99" width="9.20" height="33.31" fill="#0127ff"/>
<rect x="266.40" y="356.99" width="13.10" height="33.31" fill="#0444ff"/>
<rect x="279.50" y="356.99" width="7.00" height="33.31" fill="#0127ff"/>
<rect x="286.50" y="356.99" width="26.10" height="33.31" fill="#0009ff"/>
<rect x="312.60" y="356.99" width="16.00" height="33.31" fill="#3c00ff"/>
<rect x="257.20" y="360.34" width="9.20" height="29.96" fill="#0127ff"/>
<rect x="266.40" y="360.34" width="13.10" height="29.96" fill="#0444ff"/>
<rect x="279.50" y="360.34" width="49.10" height="29.96" fill="#0127ff"/>
<rect x="257.20" y="363.36" width="9.20" height="26.94" fill="#0009ff"/>
<rect x="266.40" y="363.36" width="62.20" height="26.94" fill="#1900ff"/>
<rect x="257.20" y="366.38" width="9.20" height="23.92" fill="#0009ff"/>
<rect x="266.40" y="366.38" width="20.10" height="23.92" fill="#3c00ff"/>
<rect x="286.50" y="366.38" width="19.30" height="23.92" fill="#5600ff"/>
<rect x="305.80" y="366.38" width="6.80" height="23.92" fill="#bb00ff"/>
<rect x="312.60" y="366.38" width="16.00" height="23.92" fill="#ff00ef"/>
<rect x="257.20" y="369.40" width="9.20" height="20.90" fill="#0009ff"/>
<rect x="266.40" y="369.40" width="13.10" height="20.90" fill="#3c00ff"/>
<rect x="279.50" y="369.40" width="49.10" height="20.90" fill="#0009ff"/>
<rect x="257.20" y="372.08" width="22.30" height="18.22" fill="#0127ff"/>
<rect x="279.50" y="372.08" width="49.10" height="18.22" fill="#0444ff"/>
<rect x="257.20" y="375.10" width="9.20" height="15.20" fill="#3c00ff"/>
<rect x="266.40" y="375.10" width="7.20" height="15.20" fill="#8900ff"/>
<rect x="273.60" y="375.10" width="5.90" height="15.20" fill="#f200fd"/>
<rect x="279.50" y="375.10" width="26.30" height="15.20" fill="#8900ff"/>
<rect x="305.80" y="375.10" width="6.80" height="15.20" fill="#ff00e4"/>
<rect x="312.60" y="375.10" width="16.00" height="15.20" fill="#ff0082"/>
<rect x="257.20" y="377.79" width="9.20" height="12.51" fill="#0009ff"/>
<rect x="266.40" y="377.79" width="7.20" height="12.51" fill="#bb00ff"/>
<rect x="273.60" y="377.79" width="5.90" height="12.51" fill="#8900ff"/>
<rect x="279.50" y="377.79" width="7.00" height="12.51" fill="#f200fd"/>
<rect x="286.50" y="377.79" width="19.30" height="12.51" fill="#5600ff"/>
<rect x="305.80" y="377.79" width="22.80" height="12.51" fill="#0009ff"/>
<rect x="257.20" y="380.81" width="9.20" height="9.49" fill="#0127ff"/>
<rect x="266.40" y="380.81" width="13.10" height="9.49" fill="#0444ff"/>
<rect x="279.50" y="380.81" width="49.10" height="9.49" fill="#0127ff"/>
<rect x="257.20" y="383.83" width="22.30" height="6.47" fill="#0127ff"/>
<rect x="279.50" y="383.83" width="33.10" height="6.47" fill="#0009ff"/>
<rect x="312.60" y="383.83" width="16.00" height="6.47" fill="#0127ff"/></g>
<g stroke="#9c9c9c" stroke-width="1.2" stroke-dasharray="1.25 3.6" fill="none"><path d="M39.15 334.15H208.75"/><path d="M207.85 263.80H377.35"/></g>
<g fill="#a9a9a9"><text x="44.8" y="329.9">7.76</text><text x="213.4" y="260.6">7.76</text></g>
<g fill="none" stroke="#a9a9a9" stroke-width="0.75"><g clip-path="url(#c1)">
<path d="M45.90 81.40V124.30M42.80 81.40H49.00M42.80 124.30H49.00"/>
<circle cx="45.90" cy="102.90" r="2.80"/>
<path d="M48.60 73.20V86.50M45.50 73.20H51.70M45.50 86.50H51.70"/>
<circle cx="48.60" cy="80.00" r="2.80"/>
<path d="M48.60 82.90V99.50M45.50 82.90H51.70M45.50 99.50H51.70"/>
<circle cx="48.60" cy="91.20" r="2.80"/>
<path d="M53.30 61.50V80.40M50.20 61.50H56.40M50.20 80.40H56.40"/>
<circle cx="53.30" cy="70.80" r="2.80"/>
<path d="M65.50 94.50V112.10M62.40 94.50H68.60M62.40 112.10H68.60"/>
<circle cx="65.50" cy="103.30" r="2.80"/>
<path d="M70.00 21.40V45.50M66.90 21.40H73.10M66.90 45.50H73.10"/>
<circle cx="70.00" cy="33.50" r="2.80"/>
<path d="M69.90 58.50V78.70M66.80 58.50H73.00M66.80 78.70H73.00"/>
<circle cx="69.90" cy="68.70" r="2.80"/>
<path d="M84.50 14.80V65.40M81.40 14.80H87.60M81.40 65.40H87.60"/>
<circle cx="84.50" cy="40.10" r="2.80"/>
<path d="M84.50 47.10V66.90M81.40 47.10H87.60M81.40 66.90H87.60"/>
<circle cx="84.50" cy="57.00" r="2.80"/>
<path d="M84.50 66.50V87.80M81.40 66.50H87.60M81.40 87.80H87.60"/>
<circle cx="84.50" cy="77.20" r="2.80"/>
<path d="M84.50 77.10V98.30M81.40 77.10H87.60M81.40 98.30H87.60"/>
<circle cx="84.50" cy="87.80" r="2.80"/>
<path d="M84.50 92.30V112.90M81.40 92.30H87.60M81.40 112.90H87.60"/>
<circle cx="84.50" cy="102.70" r="2.80"/>
<path d="M91.40 22.40V45.80M88.30 22.40H94.50M88.30 45.80H94.50"/>
<circle cx="91.40" cy="34.00" r="2.80"/>
<path d="M91.40 41.70V61.60M88.30 41.70H94.50M88.30 61.60H94.50"/>
<circle cx="91.40" cy="51.70" r="2.80"/>
<path d="M91.40 56.50V91.50M88.30 56.50H94.50M88.30 91.50H94.50"/>
<circle cx="91.40" cy="74.00" r="2.80"/>
<path d="M91.40 82.30V101.70M88.30 82.30H94.50M88.30 101.70H94.50"/>
<circle cx="91.40" cy="92.00" r="2.80"/>
<path d="M101.70 49.20V66.40M98.60 49.20H104.80M98.60 66.40H104.80"/>
<circle cx="101.70" cy="57.70" r="2.80"/>
<path d="M101.30 70.20V90.60M98.20 70.20H104.40M98.20 90.60H104.40"/>
<circle cx="101.30" cy="80.70" r="2.80"/>
<path d="M101.50 84.30V101.50M98.40 84.30H104.60M98.40 101.50H104.60"/>
<circle cx="101.50" cy="93.10" r="2.80"/>
<path d="M104.50 67.20V88.80M101.40 67.20H107.60M101.40 88.80H107.60"/>
<circle cx="104.50" cy="77.80" r="2.80"/>
<path d="M104.80 1.10V21.70M101.70 1.10H107.90M101.70 21.70H107.90"/>
<circle cx="104.80" cy="11.50" r="2.80"/>
<path d="M108.70 43.40V67.50M105.60 43.40H111.80M105.60 67.50H111.80"/>
<circle cx="108.70" cy="55.40" r="2.80"/>
<path d="M109.30 8.80V37.80M106.20 8.80H112.40M106.20 37.80H112.40"/>
<circle cx="109.30" cy="23.40" r="2.80"/>
<path d="M105.10 114.60V136.00M102.00 114.60H108.20M102.00 136.00H108.20"/>
<circle cx="105.10" cy="125.20" r="2.80"/>
<path d="M109.40 108.20V149.00M106.30 108.20H112.50M106.30 149.00H112.50"/>
<circle cx="109.40" cy="128.60" r="2.80"/>
<path d="M109.40 122.30V146.00M106.30 122.30H112.50M106.30 146.00H112.50"/>
<circle cx="109.40" cy="134.20" r="2.80"/>
<path d="M122.30 49.30V67.50M119.20 49.30H125.40M119.20 67.50H125.40"/>
<circle cx="122.30" cy="58.20" r="2.80"/>
<path d="M124.60 56.50V74.90M121.50 56.50H127.70M121.50 74.90H127.70"/>
<circle cx="124.60" cy="65.70" r="2.80"/>
<path d="M122.40 67.60V88.20M119.30 67.60H125.50M119.30 88.20H125.50"/>
<circle cx="122.40" cy="78.00" r="2.80"/>
<path d="M122.40 79.20V97.20M119.30 79.20H125.50M119.30 97.20H125.50"/>
<circle cx="122.40" cy="88.20" r="2.80"/>
<path d="M122.40 103.70V122.70M119.30 103.70H125.50M119.30 122.70H125.50"/>
<circle cx="122.40" cy="113.30" r="2.80"/>
<path d="M128.70 40.00V61.40M125.60 40.00H131.80M125.60 61.40H131.80"/>
<circle cx="128.70" cy="51.10" r="2.80"/>
<path d="M140.60 40.00V57.50M137.50 40.00H143.70M137.50 57.50H143.70"/>
<circle cx="140.60" cy="48.90" r="2.80"/>
<path d="M139.00 54.20V70.60M135.90 54.20H142.10M135.90 70.60H142.10"/>
<circle cx="139.00" cy="62.40" r="2.80"/>
<path d="M138.80 59.70V75.30M135.70 59.70H141.90M135.70 75.30H141.90"/>
<circle cx="138.80" cy="67.50" r="2.80"/>
<path d="M143.80 68.50V87.30M140.70 68.50H146.90M140.70 87.30H146.90"/>
<circle cx="143.80" cy="78.00" r="2.80"/>
<path d="M141.10 88.40V107.60M138.00 88.40H144.20M138.00 107.60H144.20"/>
<circle cx="141.10" cy="98.10" r="2.80"/>
<path d="M148.20 82.50V101.80M145.10 82.50H151.30M145.10 101.80H151.30"/>
<circle cx="148.20" cy="92.10" r="2.80"/>
<path d="M157.60 68.60V85.40M154.50 68.60H160.70M154.50 85.40H160.70"/>
<circle cx="157.60" cy="77.00" r="2.80"/>
<path d="M160.90 47.40V67.10M157.80 47.40H164.00M157.80 67.10H164.00"/>
<circle cx="160.90" cy="57.30" r="2.80"/>
<path d="M162.30 -3.00V14.30M159.20 -3.00H165.40M159.20 14.30H165.40"/>
<circle cx="162.30" cy="5.60" r="2.80"/>
<path d="M162.10 87.80V107.50M159.00 87.80H165.20M159.00 107.50H165.20"/>
<circle cx="162.10" cy="97.70" r="2.80"/>
<path d="M157.90 95.20V115.10M154.80 95.20H161.00M154.80 115.10H161.00"/>
<circle cx="157.90" cy="105.00" r="2.80"/>
<path d="M163.40 94.00V113.30M160.30 94.00H166.50M160.30 113.30H166.50"/>
<circle cx="163.40" cy="103.80" r="2.80"/>
<path d="M166.60 69.90V86.30M163.50 69.90H169.70M163.50 86.30H169.70"/>
<circle cx="166.60" cy="78.10" r="2.80"/>
<path d="M176.60 62.20V79.30M173.50 62.20H179.70M173.50 79.30H179.70"/>
<circle cx="176.60" cy="70.90" r="2.80"/>
<path d="M181.50 61.40V79.30M178.40 61.40H184.60M178.40 79.30H184.60"/>
<circle cx="181.50" cy="70.60" r="2.80"/>
<path d="M179.70 79.00V100.90M176.60 79.00H182.80M176.60 100.90H182.80"/>
<circle cx="179.70" cy="89.80" r="2.80"/>
<path d="M202.40 82.10V96.00M199.30 82.10H205.50M199.30 96.00H205.50"/>
<circle cx="202.40" cy="89.00" r="2.80"/>
</g><g clip-path="url(#c2)">
<path d="M214.60 81.40V124.30M211.50 81.40H217.70M211.50 124.30H217.70"/>
<circle cx="214.60" cy="102.90" r="2.80"/>
<path d="M217.30 73.20V86.50M214.20 73.20H220.40M214.20 86.50H220.40"/>
<circle cx="217.30" cy="80.00" r="2.80"/>
<path d="M217.30 82.90V99.50M214.20 82.90H220.40M214.20 99.50H220.40"/>
<circle cx="217.30" cy="91.20" r="2.80"/>
<path d="M222.00 61.50V80.40M218.90 61.50H225.10M218.90 80.40H225.10"/>
<circle cx="222.00" cy="70.80" r="2.80"/>
<path d="M234.20 94.50V112.10M231.10 94.50H237.30M231.10 112.10H237.30"/>
<circle cx="234.20" cy="103.30" r="2.80"/>
<path d="M238.70 21.40V45.50M235.60 21.40H241.80M235.60 45.50H241.80"/>
<circle cx="238.70" cy="33.50" r="2.80"/>
<path d="M238.60 58.50V78.70M235.50 58.50H241.70M235.50 78.70H241.70"/>
<circle cx="238.60" cy="68.70" r="2.80"/>
<path d="M253.20 14.80V65.40M250.10 14.80H256.30M250.10 65.40H256.30"/>
<circle cx="253.20" cy="40.10" r="2.80"/>
<path d="M253.20 47.10V66.90M250.10 47.10H256.30M250.10 66.90H256.30"/>
<circle cx="253.20" cy="57.00" r="2.80"/>
<path d="M253.20 66.50V87.80M250.10 66.50H256.30M250.10 87.80H256.30"/>
<circle cx="253.20" cy="77.20" r="2.80"/>
<path d="M253.20 77.10V98.30M250.10 77.10H256.30M250.10 98.30H256.30"/>
<circle cx="253.20" cy="87.80" r="2.80"/>
<path d="M253.20 92.30V112.90M250.10 92.30H256.30M250.10 112.90H256.30"/>
<circle cx="253.20" cy="102.70" r="2.80"/>
<path d="M260.10 22.40V45.80M257.00 22.40H263.20M257.00 45.80H263.20"/>
<circle cx="260.10" cy="34.00" r="2.80"/>
<path d="M260.10 41.70V61.60M257.00 41.70H263.20M257.00 61.60H263.20"/>
<circle cx="260.10" cy="51.70" r="2.80"/>
<path d="M260.10 56.50V91.50M257.00 56.50H263.20M257.00 91.50H263.20"/>
<circle cx="260.10" cy="74.00" r="2.80"/>
<path d="M260.10 82.30V101.70M257.00 82.30H263.20M257.00 101.70H263.20"/>
<circle cx="260.10" cy="92.00" r="2.80"/>
<path d="M270.40 49.20V66.40M267.30 49.20H273.50M267.30 66.40H273.50"/>
<circle cx="270.40" cy="57.70" r="2.80"/>
<path d="M270.00 70.20V90.60M266.90 70.20H273.10M266.90 90.60H273.10"/>
<circle cx="270.00" cy="80.70" r="2.80"/>
<path d="M270.20 84.30V101.50M267.10 84.30H273.30M267.10 101.50H273.30"/>
<circle cx="270.20" cy="93.10" r="2.80"/>
<path d="M273.20 67.20V88.80M270.10 67.20H276.30M270.10 88.80H276.30"/>
<circle cx="273.20" cy="77.80" r="2.80"/>
<path d="M273.50 1.10V21.70M270.40 1.10H276.60M270.40 21.70H276.60"/>
<circle cx="273.50" cy="11.50" r="2.80"/>
<path d="M277.40 43.40V67.50M274.30 43.40H280.50M274.30 67.50H280.50"/>
<circle cx="277.40" cy="55.40" r="2.80"/>
<path d="M278.00 8.80V37.80M274.90 8.80H281.10M274.90 37.80H281.10"/>
<circle cx="278.00" cy="23.40" r="2.80"/>
<path d="M273.80 114.60V136.00M270.70 114.60H276.90M270.70 136.00H276.90"/>
<circle cx="273.80" cy="125.20" r="2.80"/>
<path d="M278.10 108.20V149.00M275.00 108.20H281.20M275.00 149.00H281.20"/>
<circle cx="278.10" cy="128.60" r="2.80"/>
<path d="M278.10 122.30V146.00M275.00 122.30H281.20M275.00 146.00H281.20"/>
<circle cx="278.10" cy="134.20" r="2.80"/>
<path d="M291.00 49.30V67.50M287.90 49.30H294.10M287.90 67.50H294.10"/>
<circle cx="291.00" cy="58.20" r="2.80"/>
<path d="M293.30 56.50V74.90M290.20 56.50H296.40M290.20 74.90H296.40"/>
<circle cx="293.30" cy="65.70" r="2.80"/>
<path d="M291.10 67.60V88.20M288.00 67.60H294.20M288.00 88.20H294.20"/>
<circle cx="291.10" cy="78.00" r="2.80"/>
<path d="M291.10 79.20V97.20M288.00 79.20H294.20M288.00 97.20H294.20"/>
<circle cx="291.10" cy="88.20" r="2.80"/>
<path d="M291.10 103.70V122.70M288.00 103.70H294.20M288.00 122.70H294.20"/>
<circle cx="291.10" cy="113.30" r="2.80"/>
<path d="M297.40 40.00V61.40M294.30 40.00H300.50M294.30 61.40H300.50"/>
<circle cx="297.40" cy="51.10" r="2.80"/>
<path d="M309.30 40.00V57.50M306.20 40.00H312.40M306.20 57.50H312.40"/>
<circle cx="309.30" cy="48.90" r="2.80"/>
<path d="M307.70 54.20V70.60M304.60 54.20H310.80M304.60 70.60H310.80"/>
<circle cx="307.70" cy="62.40" r="2.80"/>
<path d="M307.50 59.70V75.30M304.40 59.70H310.60M304.40 75.30H310.60"/>
<circle cx="307.50" cy="67.50" r="2.80"/>
<path d="M312.50 68.50V87.30M309.40 68.50H315.60M309.40 87.30H315.60"/>
<circle cx="312.50" cy="78.00" r="2.80"/>
<path d="M309.80 88.40V107.60M306.70 88.40H312.90M306.70 107.60H312.90"/>
<circle cx="309.80" cy="98.10" r="2.80"/>
<path d="M316.90 82.50V101.80M313.80 82.50H320.00M313.80 101.80H320.00"/>
<circle cx="316.90" cy="92.10" r="2.80"/>
<path d="M326.30 68.60V85.40M323.20 68.60H329.40M323.20 85.40H329.40"/>
<circle cx="326.30" cy="77.00" r="2.80"/>
<path d="M329.60 47.40V67.10M326.50 47.40H332.70M326.50 67.10H332.70"/>
<circle cx="329.60" cy="57.30" r="2.80"/>
<path d="M331.00 -3.00V14.30M327.90 -3.00H334.10M327.90 14.30H334.10"/>
<circle cx="331.00" cy="5.60" r="2.80"/>
<path d="M330.80 87.80V107.50M327.70 87.80H333.90M327.70 107.50H333.90"/>
<circle cx="330.80" cy="97.70" r="2.80"/>
<path d="M326.60 95.20V115.10M323.50 95.20H329.70M323.50 115.10H329.70"/>
<circle cx="326.60" cy="105.00" r="2.80"/>
<path d="M332.10 94.00V113.30M329.00 94.00H335.20M329.00 113.30H335.20"/>
<circle cx="332.10" cy="103.80" r="2.80"/>
<path d="M335.30 69.90V86.30M332.20 69.90H338.40M332.20 86.30H338.40"/>
<circle cx="335.30" cy="78.10" r="2.80"/>
<path d="M345.30 62.20V79.30M342.20 62.20H348.40M342.20 79.30H348.40"/>
<circle cx="345.30" cy="70.90" r="2.80"/>
<path d="M350.20 61.40V79.30M347.10 61.40H353.30M347.10 79.30H353.30"/>
<circle cx="350.20" cy="70.60" r="2.80"/>
<path d="M348.40 79.00V100.90M345.30 79.00H351.50M345.30 100.90H351.50"/>
<circle cx="348.40" cy="89.80" r="2.80"/>
<path d="M371.10 82.10V96.00M368.00 82.10H374.20M368.00 96.00H374.20"/>
<circle cx="371.10" cy="89.00" r="2.80"/>
</g></g>
<g stroke="#000" stroke-width="0.75" fill="none" stroke-linecap="butt">
<path d="M39.60 0.40H377.75"/>
<path d="M39.60 139.30H377.75"/>
<path d="M39.60 387.30H377.75"/>
<path d="M40.00 0.40V387.30"/>
<path d="M208.75 0.40V387.30"/>
<path d="M377.35 0.40V387.30"/>
<path d="M39.85 387.30v5.40"/>
<path d="M67.39 387.30v5.40"/>
<path d="M94.93 387.30v5.40"/>
<path d="M122.47 387.30v5.40"/>
<path d="M150.01 387.30v5.40"/>
<path d="M177.55 387.30v5.40"/>
<path d="M205.09 387.30v5.40"/>
<path d="M208.55 387.30v5.40"/>
<path d="M236.09 387.30v5.40"/>
<path d="M263.63 387.30v5.40"/>
<path d="M291.17 387.30v5.40"/>
<path d="M318.71 387.30v5.40"/>
<path d="M346.25 387.30v5.40"/>
<path d="M373.79 387.30v5.40"/>
<path d="M40.00 10.85h-5.40"/>
<path d="M40.00 43.50h-5.40"/>
<path d="M40.00 76.50h-5.40"/>
<path d="M40.00 109.35h-5.40"/>
<path d="M40.00 371.06h2.70"/>
<path d="M40.00 360.03h2.70"/>
<path d="M40.00 352.21h2.70"/>
<path d="M40.00 346.14h2.70"/>
<path d="M40.00 341.19h2.70"/>
<path d="M40.00 337.00h2.70"/>
<path d="M40.00 333.37h2.70"/>
<path d="M40.00 330.16h2.70"/>
<path d="M40.00 327.30h5.40"/>
<path d="M40.00 308.46h2.70"/>
<path d="M40.00 297.43h2.70"/>
<path d="M40.00 289.61h2.70"/>
<path d="M40.00 283.54h2.70"/>
<path d="M40.00 278.59h2.70"/>
<path d="M40.00 274.40h2.70"/>
<path d="M40.00 270.77h2.70"/>
<path d="M40.00 267.56h2.70"/>
<path d="M40.00 264.70h5.40"/>
<path d="M40.00 245.86h2.70"/>
<path d="M40.00 234.83h2.70"/>
<path d="M40.00 227.01h2.70"/>
<path d="M40.00 220.94h2.70"/>
<path d="M40.00 215.99h2.70"/>
<path d="M40.00 211.80h2.70"/>
<path d="M40.00 208.17h2.70"/>
<path d="M40.00 204.96h2.70"/>
<path d="M40.00 202.10h5.40"/>
<path d="M40.00 183.26h2.70"/>
<path d="M40.00 172.23h2.70"/>
<path d="M40.00 164.41h2.70"/>
<path d="M40.00 158.34h2.70"/>
<path d="M40.00 153.39h2.70"/>
<path d="M40.00 149.20h2.70"/>
<path d="M40.00 145.57h2.70"/>
<path d="M40.00 142.36h2.70"/>
<path d="M208.75 163.50h-5.40"/>
<path d="M208.75 203.90h-5.40"/>
<path d="M208.75 244.30h-5.40"/>
<path d="M208.75 284.60h-5.40"/>
<path d="M208.75 325.00h-5.40"/>
<path d="M208.75 365.40h-5.40"/>
<path d="M403.7 350.45h4.6"/>
<path d="M403.7 310.95h4.6"/>
<path d="M403.7 271.45h4.6"/>
<path d="M403.7 231.95h4.6"/>
<path d="M403.7 192.45h4.6"/>
<path d="M403.7 152.95h4.6"/>
</g>
<rect x="398.2" y="151.50" width="5.5" height="223.50" fill="url(#cb)" stroke="#000" stroke-width="0.6"/>
<g fill="#000" stroke="#000" stroke-width="0.22">
<text x="40.00" y="404.6" text-anchor="middle">0</text>
<text x="67.50" y="404.6" text-anchor="middle">500</text>
<text x="122.50" y="404.6" text-anchor="middle">1500</text>
<text x="177.50" y="404.6" text-anchor="middle">2500</text>
<text x="236.20" y="404.6" text-anchor="middle">500</text>
<text x="291.20" y="404.6" text-anchor="middle">1500</text>
<text x="346.20" y="404.6" text-anchor="middle">2500</text>
<text x="208.8" y="424.1" text-anchor="middle" font-size="12.9">BJD−2455200.81388</text>
<text transform="translate(28.4 11.10) rotate(-90)" text-anchor="middle">10</text>
<text transform="translate(28.4 43.70) rotate(-90)" text-anchor="middle">5</text>
<text transform="translate(28.4 76.50) rotate(-90)" text-anchor="middle">0</text>
<text transform="translate(28.4 109.20) rotate(-90)" text-anchor="middle">−5</text>
<text transform="translate(10 69.8) rotate(-90)" text-anchor="middle">RV [m/s]</text>
<text transform="translate(10 262.6) rotate(-90)" text-anchor="middle">Period [day]</text>
<text transform="translate(32.6 139.60) rotate(-90)" text-anchor="middle">10<tspan font-size="8.4" dy="-5.6">4</tspan></text>
<text transform="translate(32.6 202.20) rotate(-90)" text-anchor="middle">10<tspan font-size="8.4" dy="-5.6">3</tspan></text>
<text transform="translate(32.6 264.80) rotate(-90)" text-anchor="middle">10<tspan font-size="8.4" dy="-5.6">2</tspan></text>
<text transform="translate(32.6 327.40) rotate(-90)" text-anchor="middle">10<tspan font-size="8.4" dy="-5.6">1</tspan></text>
<text transform="translate(197.3 203.90) rotate(-90)" text-anchor="middle">8.5</text>
<text transform="translate(197.3 244.30) rotate(-90)" text-anchor="middle">8.0</text>
<text transform="translate(197.3 284.60) rotate(-90)" text-anchor="middle">7.5</text>
<text transform="translate(197.3 325.00) rotate(-90)" text-anchor="middle">7.0</text>
<text x="412.6" y="354.90">0.0</text>
<text x="412.6" y="315.40">0.2</text>
<text x="412.6" y="275.90">0.4</text>
<text x="412.6" y="236.40">0.6</text>
<text x="412.6" y="196.90">0.8</text>
<text x="412.6" y="157.40">1.0</text>
</g>
</svg>
</body></html>
